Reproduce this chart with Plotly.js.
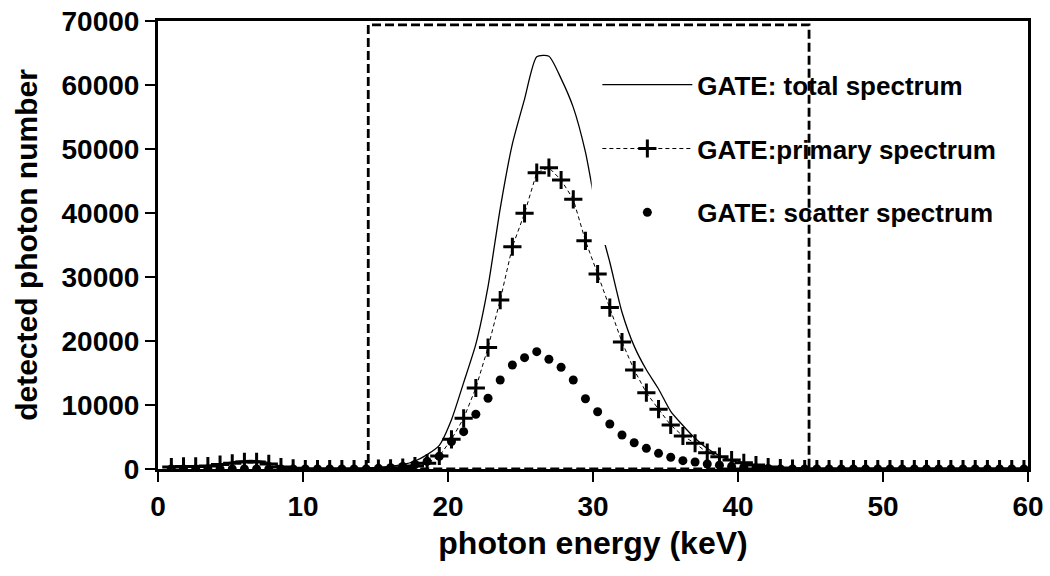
<!DOCTYPE html>
<html>
<head>
<meta charset="utf-8">
<script src="https://cdn.plot.ly/plotly-3.0.1.min.js"></script>
<style>html,body{margin:0;padding:0;background:#fff;}#chart{width:1050px;height:576px;}</style>
</head>
<body>
<div id="chart"></div>
<script>
// photon energy bins (keV)
var energy = [0.92,1.76,2.60,3.44,4.28,5.12,5.96,6.80,7.64,8.48,9.32,10.16,11.00,11.84,12.68,13.52,14.36,15.20,16.04,16.88,17.72,18.56,19.40,20.24,21.08,21.92,22.76,23.60,24.44,25.28,26.12,26.96,27.80,28.64,29.48,30.32,31.16,32.00,32.84,33.68,34.52,35.36,36.20,37.04,37.88,38.72,39.56,40.40,41.24,42.08,42.92,43.76,44.60,45.44,46.28,47.12,47.96,48.80,49.64,50.48,51.32,52.16,53.00,53.84,54.68,55.52,56.36,57.20,58.04,58.88,59.72];

var totalSpectrum = [350,450,500,550,800,1100,1300,1300,1000,400,150,0,0,0,0,50,100,250,450,700,1250,2250,3700,7700,13500,19500,28500,40700,50800,57800,64400,64500,61000,56500,49500,39500,32300,24500,19200,15500,12500,9000,6800,4800,3200,2100,1300,800,500,250,100,0,0,0,0,0,0,0,0,0,0,0,0,0,0,0,0,0,0,0,0];

var primarySpectrum = [300,400,400,450,700,900,1100,1100,800,300,100,0,0,0,0,0,0,50,100,200,470,890,2030,4640,7920,12660,18980,26400,34730,39950,46300,47080,45160,42140,35660,30470,25230,19840,15470,11920,9340,6875,5160,4020,2550,1920,1400,980,620,300,150,50,0,0,0,0,0,0,0,0,0,0,0,0,0,0,0,0,0,0,0];

var scatterSpectrum = [0,0,0,0,0,0,0,0,0,0,0,0,0,0,0,0,0,100,200,400,700,1200,2000,4300,5830,8550,11050,13900,16250,17400,18330,17140,15890,13900,10980,8950,7030,5310,4110,3230,2450,1830,1300,1090,780,600,420,280,150,80,0,0,0,0,0,0,0,0,0,0,0,0,0,0,0,0,0,0,0,0,0];

var seriesNames = ["GATE: total spectrum", "GATE:primary spectrum", "GATE: scatter spectrum"];
var xTicks = [0,10,20,30,40,50,60];
var yTicks = [0,10000,20000,30000,40000,50000,60000,70000];
var windowLow = 14.5, windowHigh = 44.9, windowTop = 69400;

var FONT = "Liberation Sans, Arial, sans-serif";

var traces = [
  {x: energy, y: totalSpectrum, name: seriesNames[0], type: "scatter", mode: "lines",
   line: {color: "#000", width: 1.3, shape: "spline", smoothing: 0.6}, legendgroup: "a"},
  {x: energy, y: primarySpectrum, name: seriesNames[1], type: "scatter", mode: "lines+markers",
   line: {color: "#000", width: 1, dash: "4px,3px"},
   marker: {symbol: "cross-thin", size: 13, color: "#000", line: {color: "#000", width: 3}}, legendgroup: "b"},
  {x: energy, y: scatterSpectrum, name: seriesNames[2], type: "scatter", mode: "markers",
   marker: {symbol: "circle", size: 9, color: "#000"}, legendgroup: "c"}
];

var axisCommon = {
  showgrid: false, zeroline: false, showline: true, linecolor: "#000", linewidth: 3, mirror: true,
  ticks: "outside", ticklen: 10, tickwidth: 1.5, tickcolor: "#000",
  tickfont: {family: FONT, size: 28, color: "#000", weight: "bold"},
  tickformat: "d", exponentformat: "none", separatethousands: false
};

var layout = {
  width: 1050, height: 576,
  margin: {l: 158, r: 22, t: 21, b: 107},
  paper_bgcolor: "#fff", plot_bgcolor: "#fff",
  showlegend: true,
  separators: ".",
  xaxis: Object.assign({}, axisCommon, {
    range: [0, 60], tickvals: xTicks,
    title: {text: "photon energy (keV)", font: {family: FONT, size: 32, color: "#000", weight: "bold"}, standoff: 12}
  }),
  yaxis: Object.assign({}, axisCommon, {
    range: [0, 70000], tickvals: yTicks,
    title: {text: "detected photon number", font: {family: FONT, size: 30, color: "#000", weight: "bold"}, standoff: 16}
  }),
  legend: {
    x: 0.505, y: 0.91, xanchor: "left", yanchor: "top",
    bgcolor: "rgba(0,0,0,0)", borderwidth: 0,
    font: {family: FONT, size: 26, color: "#000", weight: "bold"},
    itemwidth: 90, tracegroupgap: 27, traceorder: "grouped"
  },
  shapes: [
    {type: "rect", xref: "paper", yref: "paper", x0: 0.4985, x1: 0.98, y0: 0.50, y1: 0.86,
     fillcolor: "#fff", line: {width: 0}, layer: "above"},
    {type: "rect", xref: "x", yref: "y", x0: windowLow, x1: windowHigh, y0: 0, y1: windowTop,
     line: {color: "#000", width: 2.8, dash: "9px,4px"}, layer: "above"}
  ]
};

Plotly.newPlot("chart", traces, layout, {staticPlot: true, displayModeBar: false});
</script>
</body>
</html>
